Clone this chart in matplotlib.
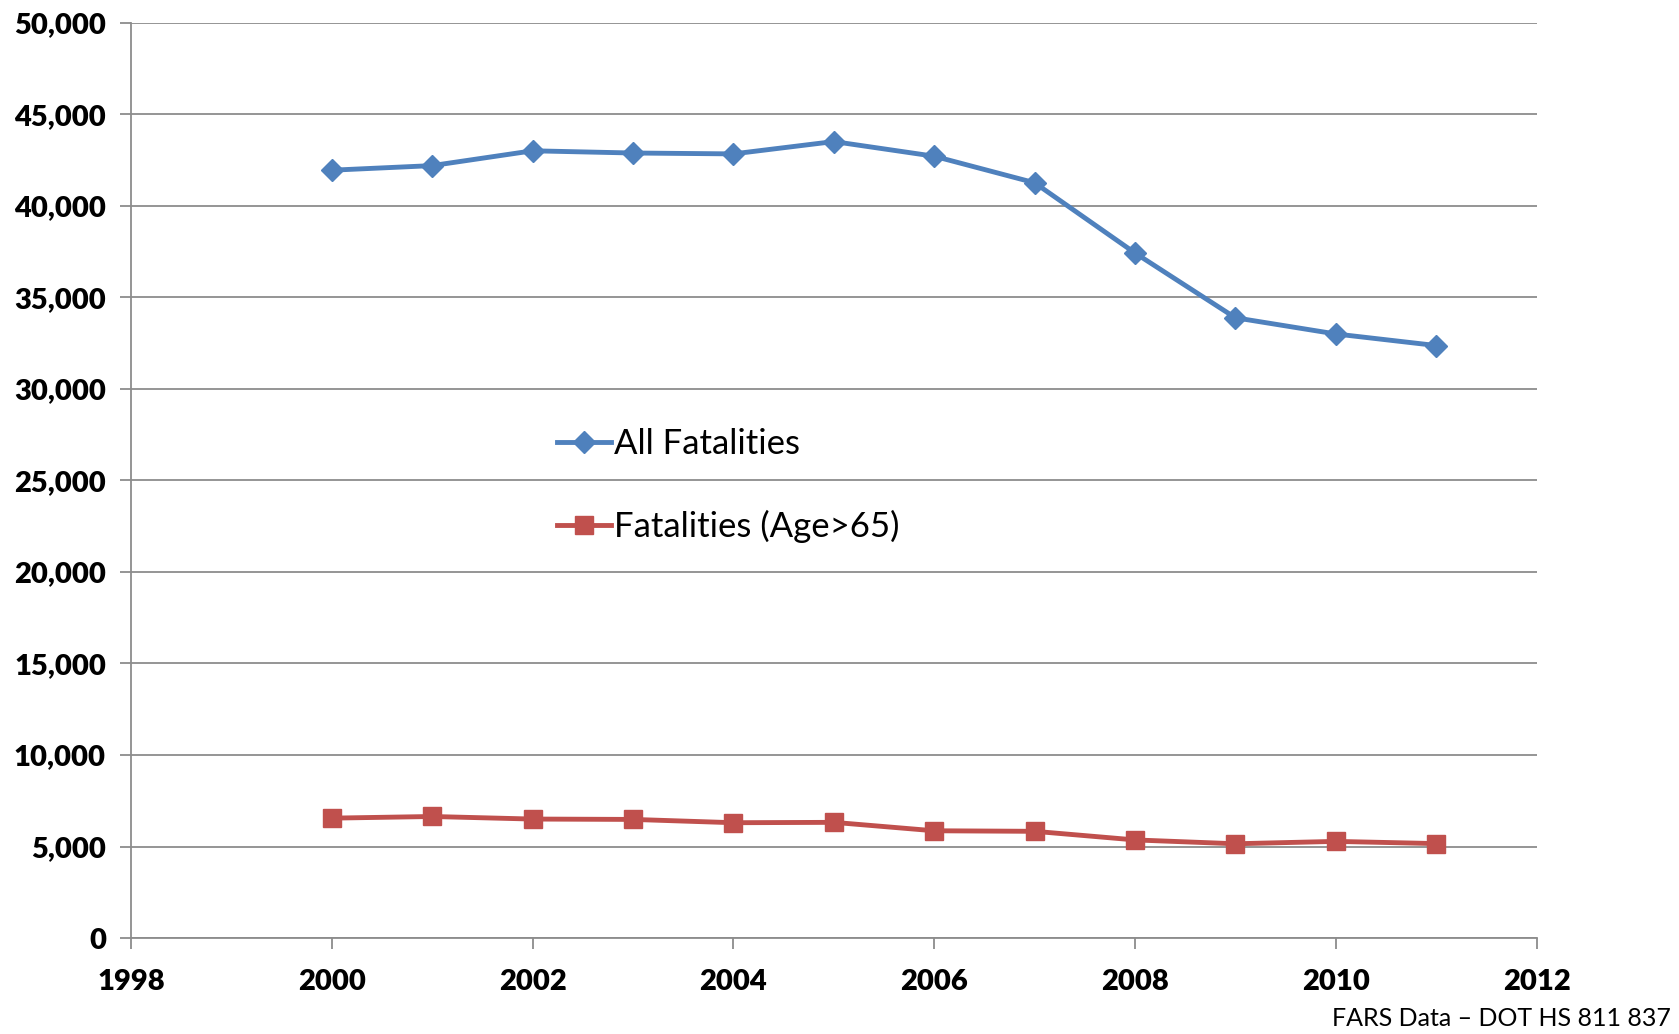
import matplotlib
matplotlib.use("Agg")
import matplotlib.pyplot as plt
from matplotlib.ticker import FuncFormatter

years = [2000, 2001, 2002, 2003, 2004, 2005, 2006, 2007, 2008, 2009, 2010, 2011]
all_fatalities = [41945, 42196, 43005, 42884, 42836, 43510, 42708, 41259, 37423, 33883, 32999, 32367]
older_fatalities = [6550, 6640, 6500, 6480, 6300, 6320, 5860, 5830, 5360, 5150, 5280, 5160]
y_ticks = list(range(0, 50001, 5000))
x_ticks = list(range(1998, 2013, 2))

plt.rcParams['font.family'] = ['Lato', 'DejaVu Sans']

fig = plt.figure(figsize=(16.79, 10.34), dpi=100)
ax = fig.add_axes([0.078, 0.0928, 0.8372, 0.8852])

ax.plot(years, all_fatalities, color='#4F81BD', lw=3.5, marker='D', ms=11,
        label='All Fatalities')
ax.plot(years, older_fatalities, color='#C0504D', lw=3.5, marker='s', ms=13,
        label='Fatalities (Age>65)')

ax.set_xlim(1998, 2012)
ax.set_ylim(0, 50000)
ax.set_xticks(x_ticks)
ax.set_yticks(y_ticks)
ax.yaxis.set_major_formatter(FuncFormatter(lambda v, p: f"{int(v):,}"))

ax.grid(axis='y', color='#8c8c8c', lw=1.3)
ax.set_axisbelow(True)
for s in ['top', 'right']:
    ax.spines[s].set_visible(False)
for s in ['left', 'bottom']:
    ax.spines[s].set_color('#8c8c8c')
    ax.spines[s].set_linewidth(1.3)
ax.tick_params(axis='both', color='#8c8c8c', width=1.3, length=8, labelsize=21)
ax.tick_params(axis='y', pad=10)
ax.tick_params(axis='x', pad=14)
for lab in ax.get_xticklabels() + ax.get_yticklabels():
    lab.set_fontweight('heavy')

ax.legend(loc='center left', bbox_to_anchor=(0.303, 0.494), frameon=False, fontsize=25,
          handlelength=1.55, handletextpad=0.1, labelspacing=1.43,
          borderpad=0, borderaxespad=0)

fig.text(0.995, 0.004, 'FARS Data \u2013 DOT HS 811 837', ha='right', va='bottom', fontsize=18)

fig.savefig('out.png', dpi=100)
